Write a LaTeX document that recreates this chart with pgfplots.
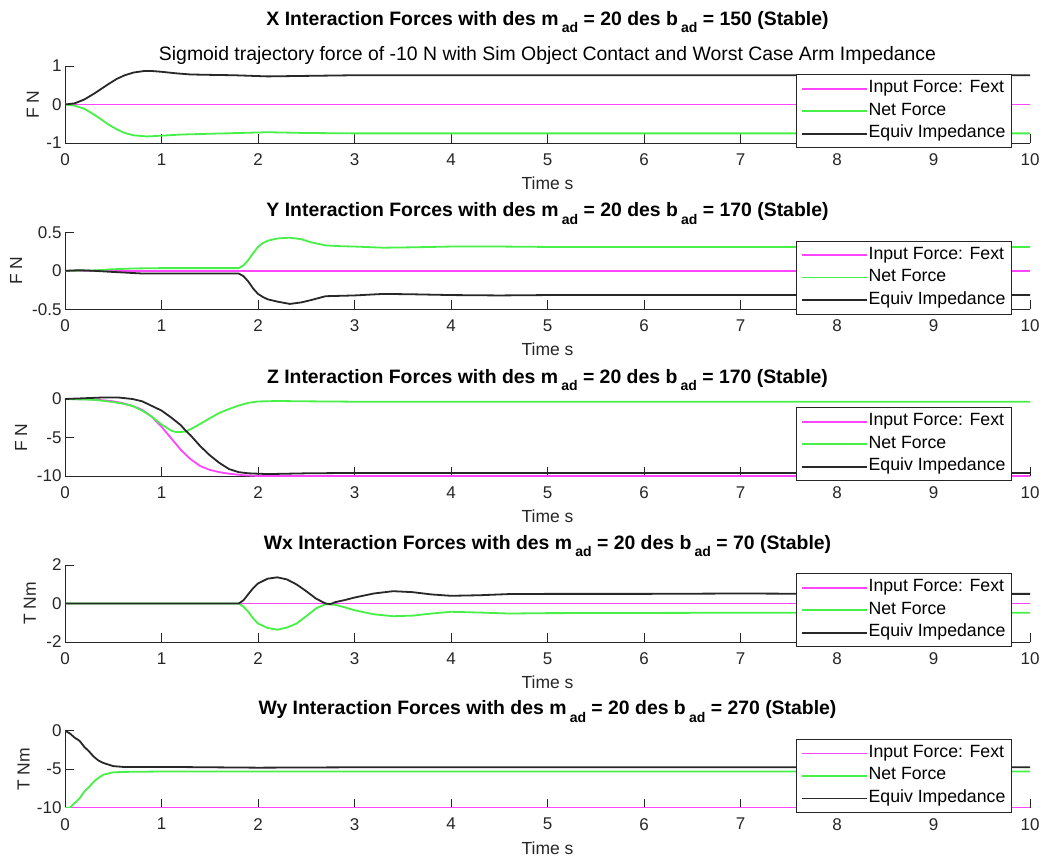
\documentclass[border=0pt]{standalone}
\usepackage{pgfplots}
\pgfplotsset{compat=1.18}
\usepackage{fontspec}
\setmainfont{Liberation Sans}
\definecolor{mag}{RGB}{255,70,255}
\definecolor{grn}{RGB}{70,240,70}
\definecolor{blk}{RGB}{40,40,40}
\definecolor{axc}{RGB}{38,38,38}
\newcommand\sub[1]{\,\raisebox{-0.4em}{\fontsize{14}{15}\selectfont #1}}
\pgfplotsset{
 panel/.style={
  scale only axis, width=965pt, height=77pt, xmin=0, xmax=10,
  xtick={0,1,2,3,4,5,6,7,8,9,10}, xticklabels={0,1,2,3,4,5,6,7,8,9,10},
  axis x line*=bottom, axis y line*=left,
  axis line style={axc, line width=0.7pt, -},
  tick style={axc, line width=0.7pt},
  tick align=inside, major tick length=9pt,
  ticklabel style={font=\fontsize{17}{20}\selectfont, text=axc},
  xticklabel style={yshift=-7pt},
  label style={font=\fontsize{17.5}{20}\selectfont, text=axc},
  xlabel={Time s},
  xlabel style={at={(axis description cs:0.5,-0.52)}, anchor=center},
  ylabel style={anchor=center},
  title style={font=\fontsize{19.4}{22}\selectfont\bfseries, at={(0.5,1)}, anchor=base, yshift=10pt},
  legend style={at={(0.981,0.89)}, anchor=north east, draw=axc, line width=0.6pt, fill=white,
    font=\fontsize{17.7}{20}\selectfont, inner xsep=5pt, inner ysep=3pt, row sep=0.5pt,
    nodes={text height=12pt, text depth=4pt, inner ysep=3pt, inner xsep=1pt},
    /tikz/every even column/.append style={column sep=7pt}},
  legend cell align=left,
  legend image code/.code={\draw[##1] (0pt,0pt) -- (65pt,0pt);},
  every axis plot/.append style={line width=1.8pt},
 }
}
\begin{document}
\begin{tikzpicture}
\useasboundingbox (0,0) rectangle (1043pt,-859pt);
% ---------- X ----------
\begin{axis}[panel, at={(65pt,-143pt)}, anchor=south west,
  ymin=-1, ymax=1, ytick={-1,0,1}, yticklabels={-1,0,1}, ylabel={F N},
  ylabel style={at={(axis description cs:-0.0332,0.5)}},
  title={X Interaction Forces with des m\sub{ad} = 20 des b\sub{ad} = 150 (Stable)},
  title style={yshift=25pt},
  after end axis/.code={\node[font=\fontsize{19.4}{22}\selectfont, anchor=base, yshift=6pt] at (rel axis cs:0.5,1) {Sigmoid trajectory force of -10 N with Sim Object Contact and Worst Case Arm Impedance};}]
\addplot[mag] coordinates {(0,0) (10,0)};
\addplot[grn] coordinates {(0,0) (0.1,-0.03) (0.2,-0.11) (0.3,-0.26) (0.36,-0.36) (0.45,-0.52) (0.54,-0.65) (0.62,-0.74) (0.71,-0.8) (0.85,-0.83) (1.0,-0.81) (1.2,-0.78) (1.5,-0.76) (1.8,-0.74) (2.1,-0.72) (2.5,-0.74) (3,-0.75) (4,-0.75) (5,-0.75) (6,-0.75) (7,-0.75) (8,-0.75) (9,-0.75) (10,-0.75)};
\addplot[blk] coordinates {(0,0) (0.1,0.03) (0.2,0.13) (0.3,0.28) (0.36,0.38) (0.45,0.53) (0.54,0.67) (0.62,0.76) (0.71,0.83) (0.82,0.87) (0.9,0.87) (1.0,0.85) (1.15,0.81) (1.3,0.78) (1.5,0.77) (1.75,0.76) (2.1,0.73) (2.4,0.74) (3,0.76) (4,0.76) (5,0.76) (6,0.76) (7,0.76) (8,0.76) (9,0.76) (10,0.76)};
\legend{Input Force: Fext, Net Force, Equiv Impedance}
\end{axis}
% ---------- Y ----------
\begin{axis}[panel, at={(65pt,-309.3pt)}, anchor=south west,
  ymin=-0.5, ymax=0.5, ytick={-0.5,0,0.5}, yticklabels={-0.5,0,0.5}, ylabel={F N},
  ylabel style={at={(axis description cs:-0.0508,0.5)}},
  title={Y Interaction Forces with des m\sub{ad} = 20 des b\sub{ad} = 170 (Stable)}]
\addplot[mag] coordinates {(0,0) (10,0)};
\addplot[grn] coordinates {(0,0) (0.3,0.005) (0.5,0.02) (0.7,0.03) (1.0,0.035) (1.5,0.035) (1.8,0.035) (1.85,0.07) (1.9,0.14) (1.95,0.23) (2.0,0.31) (2.05,0.36) (2.1,0.39) (2.2,0.42) (2.33,0.43) (2.45,0.41) (2.55,0.37) (2.7,0.33) (2.85,0.32) (3.0,0.315) (3.3,0.30) (3.6,0.305) (4.0,0.315) (4.5,0.315) (5,0.31) (6,0.31) (7,0.31) (8,0.31) (9,0.31) (10,0.31)};
\addplot[blk] coordinates {(0,0) (0.15,0.008) (0.3,0.0) (0.5,-0.015) (0.8,-0.035) (1.2,-0.035) (1.8,-0.035) (1.85,-0.07) (1.9,-0.14) (1.95,-0.23) (2.0,-0.30) (2.05,-0.34) (2.1,-0.37) (2.2,-0.40) (2.33,-0.43) (2.45,-0.41) (2.55,-0.38) (2.7,-0.33) (2.85,-0.325) (3.0,-0.32) (3.3,-0.30) (3.6,-0.305) (4.0,-0.315) (4.5,-0.32) (5,-0.315) (6,-0.315) (7,-0.315) (8,-0.315) (9,-0.315) (10,-0.315)};
\legend{Input Force: Fext, Net Force, Equiv Impedance}
\end{axis}
% ---------- Z ----------
\begin{axis}[panel, at={(65pt,-476pt)}, anchor=south west, clip=false,
  ymin=-10, ymax=0, ytick={-10,-5,0}, yticklabels={-10,-5,0}, ylabel={F N},
  ylabel style={at={(axis description cs:-0.0456,0.5)}},
  title={Z Interaction Forces with des m\sub{ad} = 20 des b\sub{ad} = 170 (Stable)}]
\addplot[mag] coordinates {(0,0) (0.3,-0.05) (0.5,-0.3) (0.6,-0.55) (0.7,-0.9) (0.8,-1.4) (0.9,-2.3) (1.0,-3.6) (1.1,-5.1) (1.2,-6.6) (1.3,-7.8) (1.4,-8.7) (1.5,-9.2) (1.6,-9.5) (1.7,-9.7) (1.85,-9.9) (2.0,-10) (10,-10)};
\addplot[grn] coordinates {(0,0) (0.3,-0.1) (0.5,-0.4) (0.6,-0.6) (0.7,-0.9) (0.8,-1.5) (0.9,-2.3) (1.0,-3.3) (1.1,-4.1) (1.15,-4.3) (1.25,-4.25) (1.35,-3.6) (1.5,-2.5) (1.6,-1.8) (1.7,-1.3) (1.8,-0.85) (1.9,-0.5) (2.0,-0.32) (2.2,-0.26) (2.5,-0.3) (3,-0.35) (4,-0.35) (5,-0.35) (6,-0.35) (7,-0.35) (8,-0.35) (9,-0.35) (10,-0.35)};
\addplot[blk] coordinates {(0,0) (0.2,0.1) (0.4,0.2) (0.55,0.2) (0.7,0.0) (0.8,-0.3) (0.9,-0.9) (1.0,-1.5) (1.1,-2.4) (1.2,-3.4) (1.25,-4.1) (1.3,-4.7) (1.4,-6.1) (1.5,-7.3) (1.6,-8.3) (1.7,-9.1) (1.8,-9.5) (1.9,-9.65) (2.0,-9.7) (2.1,-9.75) (2.5,-9.65) (3,-9.6) (4,-9.6) (5,-9.6) (6,-9.6) (7,-9.6) (8,-9.6) (9,-9.6) (10,-9.6)};
\legend{Input Force: Fext, Net Force, Equiv Impedance}
\end{axis}
% ---------- Wx ----------
\begin{axis}[panel, at={(65pt,-642pt)}, anchor=south west,
  ymin=-2, ymax=2, ytick={-2,0,2}, yticklabels={-2,0,2}, ylabel={T Nm},
  ylabel style={at={(axis description cs:-0.0363,0.5)}},
  title={Wx Interaction Forces with des m\sub{ad} = 20 des b\sub{ad} = 70 (Stable)}]
\addplot[mag] coordinates {(0,0) (10,0)};
\addplot[grn] coordinates {(0,0) (1.8,0) (1.85,-0.17) (1.9,-0.43) (1.95,-0.78) (2.0,-1.04) (2.1,-1.27) (2.2,-1.36) (2.3,-1.25) (2.4,-1.04) (2.5,-0.66) (2.6,-0.26) (2.7,-0.03) (2.8,-0.07) (2.9,-0.2) (3.0,-0.35) (3.2,-0.56) (3.4,-0.66) (3.6,-0.63) (3.8,-0.52) (4.0,-0.43) (4.3,-0.47) (4.6,-0.52) (5,-0.5) (6,-0.49) (7,-0.48) (8,-0.48) (9,-0.48) (10,-0.48)};
\addplot[blk] coordinates {(0,0) (1.8,0) (1.85,0.17) (1.9,0.49) (1.95,0.8) (2.0,1.04) (2.1,1.29) (2.2,1.36) (2.3,1.25) (2.4,0.99) (2.5,0.64) (2.6,0.26) (2.7,0.0) (2.75,-0.03) (2.8,0.07) (2.9,0.18) (3.0,0.31) (3.2,0.52) (3.4,0.64) (3.6,0.59) (3.8,0.47) (4.0,0.40) (4.3,0.43) (4.6,0.49) (5,0.5) (6,0.5) (7,0.52) (8,0.5) (9,0.5) (10,0.5)};
\legend{Input Force: Fext, Net Force, Equiv Impedance}
\end{axis}
% ---------- Wy ----------
\begin{axis}[panel, at={(65pt,-807.7pt)}, anchor=south west,
  ymin=-10, ymax=0, ytick={-10,-5,0}, yticklabels={-10,-5,0}, ylabel={T Nm},
  ylabel style={at={(axis description cs:-0.043,0.5)}},
  title={Wy Interaction Forces with des m\sub{ad} = 20 des b\sub{ad} = 270 (Stable)}]
\addplot[mag] coordinates {(0,-10) (10,-10)};
\addplot[grn] coordinates {(0,-10) (0.05,-10) (0.1,-9.4) (0.15,-8.8) (0.2,-7.9) (0.25,-7.3) (0.3,-6.6) (0.35,-6.1) (0.4,-5.7) (0.5,-5.4) (0.6,-5.35) (1,-5.3) (2,-5.3) (3,-5.3) (4,-5.3) (5,-5.3) (6,-5.3) (7,-5.3) (8,-5.3) (9,-5.3) (10,-5.3)};
\addplot[blk] coordinates {(0,0) (0.05,-0.35) (0.1,-0.9) (0.15,-1.3) (0.2,-2.1) (0.25,-2.7) (0.3,-3.4) (0.35,-3.9) (0.4,-4.2) (0.5,-4.6) (0.6,-4.7) (1,-4.7) (2,-4.8) (3,-4.75) (4,-4.75) (5,-4.75) (6,-4.75) (7,-4.75) (8,-4.75) (9,-4.75) (10,-4.75)};
\legend{Input Force: Fext, Net Force, Equiv Impedance}
\end{axis}
\end{tikzpicture}
\end{document}
